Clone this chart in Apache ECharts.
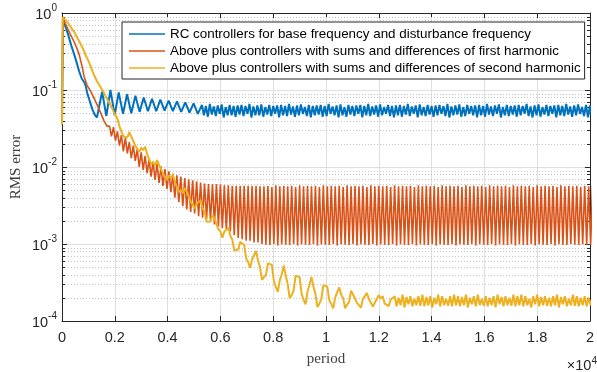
<!DOCTYPE html>
<html><head><meta charset="utf-8">
<script src="https://cdn.jsdelivr.net/npm/echarts@6/dist/echarts.min.js"></script>
<style>html,body{margin:0;padding:0;background:#fff}#c{width:597px;height:372px}</style>
</head><body><div id="c"></div>
<script>
// ---- data (period, RMS error) ----
const seriesNames = [
  'RC controllers for base frequency and disturbance frequency',
  'Above plus controllers with sums and differences of first harmonic',
  'Above plus controllers with sums and differences of second harmonic'
];
const seriesColors = ['#0072BD', '#D95319', '#EDB120'];
const xTickLabels = ['0','0.2','0.4','0.6','0.8','1','1.2','1.4','1.6','1.8','2'];
const minorTicks = [2e-4,3e-4,4e-4,5e-4,6e-4,7e-4,8e-4,9e-4,
  2e-3,3e-3,4e-3,5e-3,6e-3,7e-3,8e-3,9e-3,
  2e-2,3e-2,4e-2,5e-2,6e-2,7e-2,8e-2,9e-2,
  0.2,0.3,0.4,0.5,0.6,0.7,0.8,0.9];

// blue: transient (explicit periods)
const blueHeadX = [0,40,150,250,350,461,550,649,750,850,900,950,1050,1150,1250,1324,
  1520,1680,1835,1995,2150,2310,2465,2625,2780,2940,3095,3255,3410,3570,3725,3885,4040,4200,4355,4515,4670,4830,4985,5145];
const blueHeadY = [0.036,0.78,0.64,0.50,0.38,0.29,0.23,0.175,0.14,0.125,0.113,0.093,0.072,0.056,0.047,0.044,
  0.095,0.046,0.10,0.047,0.093,0.049,0.088,0.050,0.084,0.052,0.080,0.053,0.077,0.053,0.075,0.054,0.073,0.053,0.071,0.052,0.069,0.051,0.067,0.049];
// blue: steady part sampled every 75 periods from 5300
const blueTailStart = 5300, blueTailStep = 75;
const blueTail = [
0.064,0.047,0.062,0.045,0.066,0.048,0.061,0.046,0.063,0.049,0.065,0.044,0.060,0.047,
0.064,0.047,0.062,0.045,0.063,0.048,0.064,0.046,0.062,0.049,0.066,0.044,0.061,0.047,
0.063,0.047,0.065,0.045,0.060,0.048,0.064,0.046,0.062,0.049,0.063,0.044,0.064,0.047,
0.062,0.046,0.066,0.048,0.061,0.045,0.063,0.047,0.065,0.049,0.060,0.046,0.064,0.044,
0.062,0.047,0.063,0.048,0.064,0.045,0.062,0.046,0.066,0.049,0.061,0.047,0.063,0.044,
0.065,0.047,0.060,0.045,0.064,0.048,0.062,0.046,0.063,0.049,0.064,0.044,0.062,0.047,
0.066,0.046,0.061,0.048,0.063,0.045,0.065,0.047,0.060,0.049,0.064,0.046,0.062,0.044,
0.063,0.047,0.064,0.045,0.062,0.048,0.066,0.046,0.061,0.049,0.063,0.044,0.065,0.047,
0.060,0.046,0.064,0.048,0.062,0.045,0.063,0.047,0.064,0.049,0.062,0.046,0.066,0.044,
0.061,0.047,0.063,0.048,0.065,0.045,0.060,0.046,0.064,0.049,0.062,0.047,0.063,0.044,
0.064,0.047,0.062,0.045,0.066,0.048,0.061,0.046,0.063,0.049,0.065,0.044,0.060,0.047,
0.064,0.046,0.062,0.048,0.063,0.045,0.064,0.047,0.062,0.049,0.066,0.046,0.061,0.044,
0.063,0.047,0.065,0.045,0.060,0.048,0.064,0.046,0.062,0.049,0.063,0.044,0.064,0.047,
0.062,0.046,0.066,0.048,0.061,0.045,0.063,0.047,0.065,0.049,0.060,0.046,0.064,0.044,
0.063,0.047,0.065,0.045,0.062,0.048,0.064,0.046
];

// orange: transient (explicit periods)
const orangeHeadX = [0,25,150,300,461,560,649,750,836,950,1087,1200,1324,1450,1586,1700];
const orangeHeadY = [0.036,0.86,0.70,0.54,0.42,0.35,0.29,0.21,0.15,0.115,0.096,0.08,0.065,0.052,0.040,0.034];
// orange: oscillating part sampled every 75 periods from 1800
const orangeTailStart = 1800, orangeTailStep = 75;
const orangeTail = [
0.034,0.025,0.033,0.022,0.029,0.019,0.026,0.016,0.024,0.015,0.021,0.013,0.019,0.012,0.017,0.010,
0.0155,0.0092,0.014,0.0083,0.0125,0.0075,0.0118,0.0068,0.011,0.0062,0.0102,0.0057,0.0094,0.0052,0.0088,0.0047,
0.0082,0.0040,0.0078,0.0035,0.0075,0.0031,0.0072,0.0028,0.0069,0.0026,0.0067,0.0025,0.0065,0.0023,0.0063,0.0022,
0.0061,0.0021,0.0060,0.0020,0.0060,0.0018,0.0060,0.0017,0.0059,0.0016,0.0058,0.0015,0.0058,0.00145,0.0057,0.0013,
0.0057,0.0012,0.0057,0.00115,0.0057,0.0011,0.0057,0.0011,0.0057,0.00105,0.0057,0.00105,0.0056,0.0010,
0.0056,0.00098,0.0057,0.00097,0.0055,0.0010,0.0058,0.00096,0.0056,0.00099,0.0057,0.00098,0.0056,0.00097,0.0057,0.0010,
0.0055,0.00096,0.0058,0.00099,0.0056,0.00098,0.0057,0.00097,0.0056,0.0010,0.0057,0.00096,0.0055,0.00099,0.0058,0.00098,
0.0056,0.00097,0.0057,0.0010,0.0056,0.00096,0.0057,0.00099,0.0055,0.00098,0.0058,0.00097,0.0056,0.0010,0.0057,0.00096,
0.0056,0.00099,0.0057,0.00098,0.0055,0.00097,0.0058,0.0010,0.0056,0.00096,0.0057,0.00099,0.0056,0.00098,0.0057,0.00097,
0.0055,0.0010,0.0058,0.00096,0.0056,0.00099,0.0057,0.00098,0.0056,0.00097,0.0057,0.0010,0.0055,0.00096,0.0058,0.00099,
0.0056,0.00098,0.0057,0.00097,0.0056,0.0010,0.0057,0.00096,0.0055,0.00099,0.0058,0.00098,0.0056,0.00097,0.0057,0.0010,
0.0056,0.00096,0.0057,0.00099,0.0055,0.00098,0.0058,0.00097,0.0056,0.0010,0.0057,0.00096,0.0056,0.00099,0.0057,0.00098,
0.0055,0.00097,0.0058,0.0010,0.0056,0.00096,0.0057,0.00099,0.0056,0.00098,0.0057,0.00097,0.0055,0.0010,0.0058,0.00096,
0.0056,0.00099,0.0057,0.00098,0.0056,0.00097,0.0057,0.0010,0.0055,0.00096,0.0058,0.00099,0.0056,0.00098,0.0057,0.00097,
0.0056,0.0010,0.0057,0.00096,0.0055,0.00099,0.0058,0.00098,0.0056,0.00097,0.0057,0.0010,
0.0056,0.00098,0.0057,0.00097,0.0055,0.00099,
0.0057,0.00098,0.0056,0.00097,0.0058,0.0010,0.0056,0.00096,0.0057,0.00099
];

// yellow: transient (explicit periods)
const yellowHeadX = [0,30,120,230,350,461,560,650,750,836,920,1000,1100,1200,1324,1450,1586,1720,1849,1960,2025];
const yellowHeadY = [0.036,0.88,0.82,0.74,0.64,0.57,0.49,0.43,0.37,0.32,0.27,0.24,0.196,0.16,0.13,0.11,0.092,0.075,0.063,0.052,0.047];
// yellow: decaying/settled part sampled every 75 periods from 2100
const yellowTailStart = 2100, yellowTailStep = 75;
const yellowTail = [
0.0422,0.0338,0.0324,0.025,0.0265,0.0241,0.0283,
0.0247,0.0251,0.019,0.0186,0.0156,0.0178,0.0165,
0.0184,0.0147,0.0141,0.0109,0.0116,0.0104,0.0123,
0.0107,0.0109,0.00825,0.00807,0.00676,0.00777,0.00719,
0.00797,0.00638,0.00612,0.00472,0.00502,0.00455,0.00535,
0.00481,0.00483,0.00356,0.00342,0.00288,0.00336,0.00318,
0.00368,0.00289,0.00263,0.00195,0.00207,0.00196,0.0024,
0.00215,0.00214,0.00155,0.00145,0.00121,0.00145,0.00141,
0.00164,0.00128,0.00114,0.000825,0.000875,0.000845,0.00106,
0.00103,0.000977,0.000656,0.000584,0.000491,0.000629,0.000663,
0.000813,0.000612,0.000503,0.000343,0.000371,0.000394,0.000561,
0.000569,0.000536,0.000331,0.000279,0.000239,0.000338,0.000404,
0.000528,0.00039,0.000301,0.000197,0.000217,0.000249,0.000388,
0.000393,0.000371,0.000227,0.000189,0.000164,0.00024,0.000296,
0.000372,0.000281,0.000225,0.000152,0.000168,0.000192,0.000293,
0.000283,0.000279,0.000186,0.000166,0.000146,0.000203,0.000235,
0.000274,0.00022,0.000198,0.000146,0.000164,0.000176,0.000248,
0.000221,0.00023,0.000172,0.000168,0.000149,0.000194,0.000204,
0.00023,0.000193,0.000191,0.000154,0.000173,0.00017,0.000217,
0.000195,0.00021,0.000168,0.000175,0.000156,0.000189,0.000186,
0.00021,0.000155,0.00020,0.00016,0.00022,0.00015,0.000205,0.000165,0.00021,0.000155,0.000195,0.00016,0.00021,0.000158,0.00022,0.000155,
0.000205,0.00016,0.00021,0.00015,0.00020,0.000165,0.00022,0.000155,0.00021,0.00016,0.000195,0.000158,0.00021,0.000155,0.00022,0.00016,
0.00021,0.000155,0.000205,0.00016,0.00022,0.00015,0.00020,0.000165,0.00021,0.000155,0.00022,0.00016,0.000195,0.000158,0.00021,0.000155,
0.00020,0.00016,0.00021,0.00015,0.00022,0.000165,0.000205,0.000155,0.00021,0.00016,0.00020,0.000158,0.00022,0.000155,0.00021,0.00016,
0.00022,0.000155,0.00021,0.00016,0.000195,0.00015,0.00021,0.000165,0.00022,0.000155,0.000205,0.00016,0.00021,0.000158,0.00020,0.000155,
0.00021,0.00016,0.00022,0.00015,0.000205,0.000165,0.00021,0.000155,0.000195,0.00016,0.00022,0.000158,0.00021,0.000155,0.00020,0.00016,
0.00021,0.000155,0.00020,
0.00016,0.00021,0.000155,0.00022,0.00016,0.00020,0.000158
];

function build(hx, hy, start, step, tail) {
  const out = hx.map((x, i) => [x, hy[i]]);
  tail.forEach((v, i) => out.push([start + i * step, v]));
  return out;
}
const blueData = build(blueHeadX, blueHeadY, blueTailStart, blueTailStep, blueTail);
const orangeData = build(orangeHeadX, orangeHeadY, orangeTailStart, orangeTailStep, orangeTail);
const yellowData = build(yellowHeadX, yellowHeadY, yellowTailStart, yellowTailStep, yellowTail);

const AX = '#262626';
const FONT = 'Liberation Sans, Arial, Helvetica, sans-serif';
const SERIF = 'Liberation Serif, Times New Roman, serif';
const chart = echarts.init(document.getElementById('c'), null, {renderer: 'canvas'});

function lineSeries(name, data, color, width) {
  return {
    name, type: 'line', data, xAxisIndex: 0, yAxisIndex: 0, clip: true,
    symbol: 'none', showSymbol: false, animation: false,
    lineStyle: {color, width}, itemStyle: {color}, z: 3
  };
}

chart.setOption({
  animation: false,
  grid: {left: 62, right: 1, top: 13, bottom: 49, show: false},
  legend: {
    data: seriesNames.map(n => ({name: n, icon: 'rect'})),
    orient: 'vertical', left: 122, top: 22,
    itemWidth: 36, itemHeight: 1.6, itemGap: 3,
    padding: [5, 4, 4, 7],
    backgroundColor: '#fff', borderColor: AX, borderWidth: 1, borderRadius: 0,
    textStyle: {fontFamily: FONT, fontSize: 13.4, lineHeight: 14, color: '#000'}
  },
  xAxis: [{
    type: 'value', min: 0, max: 20000, interval: 2000, position: 'bottom',
    axisLine: {show: true, onZero: false, lineStyle: {color: AX, width: 1}},
    axisTick: {show: true, inside: true, length: 5, lineStyle: {color: AX}},
    axisLabel: {color: AX, fontFamily: FONT, fontSize: 14.5, margin: 9,
      formatter: v => xTickLabels[Math.round(v / 2000)]},
    splitLine: {show: true, lineStyle: {color: '#dfdfdf', width: 1}},
    name: 'period', nameLocation: 'middle', nameGap: 31, nameMoveOverlap: false,
    nameTextStyle: {fontFamily: SERIF, fontSize: 15, color: '#404040'}
  }, {
    type: 'value', min: 0, max: 20000, interval: 2000, position: 'top',
    axisLine: {show: true, onZero: false, lineStyle: {color: AX, width: 1}},
    axisTick: {show: true, inside: true, length: 5, lineStyle: {color: AX}},
    axisLabel: {show: false}, splitLine: {show: false}
  }],
  yAxis: [{
    type: 'log', logBase: 10, min: 1e-4, max: 1,
    axisLine: {show: true, onZero: false, lineStyle: {color: AX, width: 1}},
    axisTick: {show: true, inside: true, length: 5, lineStyle: {color: AX}},
    axisLabel: {color: AX, margin: 5,
      formatter: v => '{b|10}{s|' + Math.round(Math.log10(v)) + '}',
      rich: {
        b: {fontFamily: FONT, fontSize: 14.5, color: AX, verticalAlign: 'bottom', lineHeight: 19},
        s: {fontFamily: FONT, fontSize: 10, color: AX, verticalAlign: 'top', lineHeight: 19}
      }},
    splitLine: {show: true, lineStyle: {color: '#dfdfdf', width: 1}},
    name: 'RMS error', nameLocation: 'middle', nameGap: 38, nameMoveOverlap: false,
    nameTextStyle: {fontFamily: SERIF, fontSize: 15, color: '#404040'}
  }, {
    type: 'log', logBase: 10, min: 1e-4, max: 1, position: 'right',
    axisLine: {show: true, onZero: false, lineStyle: {color: AX, width: 1}},
    axisTick: {show: true, inside: true, length: 5, lineStyle: {color: AX}},
    axisLabel: {show: false}, splitLine: {show: false}
  }],
  graphic: [{
    type: 'text', right: 0, top: 356, silent: true,
    style: {
      text: '×10{s|4}', fill: AX, font: '14.5px ' + FONT,
      rich: {s: {fontSize: 10, fill: AX, fontFamily: FONT, verticalAlign: 'top', lineHeight: 19}}
    }
  }],
  series: [
    {
      type: 'custom', xAxisIndex: 0, yAxisIndex: 0, silent: true, z: 1,
      data: minorTicks.map(v => [0, v]), encode: {x: 0, y: 1},
      renderItem: function (params, api) {
        const cs = params.coordSys;
        const y = Math.round(api.coord([0, api.value(1)])[1]) + 0.5;
        return {type: 'group', children: [
          {type: 'line', shape: {x1: cs.x, y1: y, x2: cs.x + cs.width, y2: y},
            style: {stroke: '#c4c4c4', lineWidth: 1, lineDash: [1, 2]}},
          {type: 'line', shape: {x1: cs.x, y1: y, x2: cs.x + 3, y2: y},
            style: {stroke: AX, lineWidth: 1}},
          {type: 'line', shape: {x1: cs.x + cs.width - 3, y1: y, x2: cs.x + cs.width, y2: y},
            style: {stroke: AX, lineWidth: 1}}
        ]};
      }
    },
    lineSeries(seriesNames[0], blueData, seriesColors[0], 2),
    lineSeries(seriesNames[1], orangeData, seriesColors[1], 1.6),
    lineSeries(seriesNames[2], yellowData, seriesColors[2], 2)
  ]
});
</script>
</body></html>
